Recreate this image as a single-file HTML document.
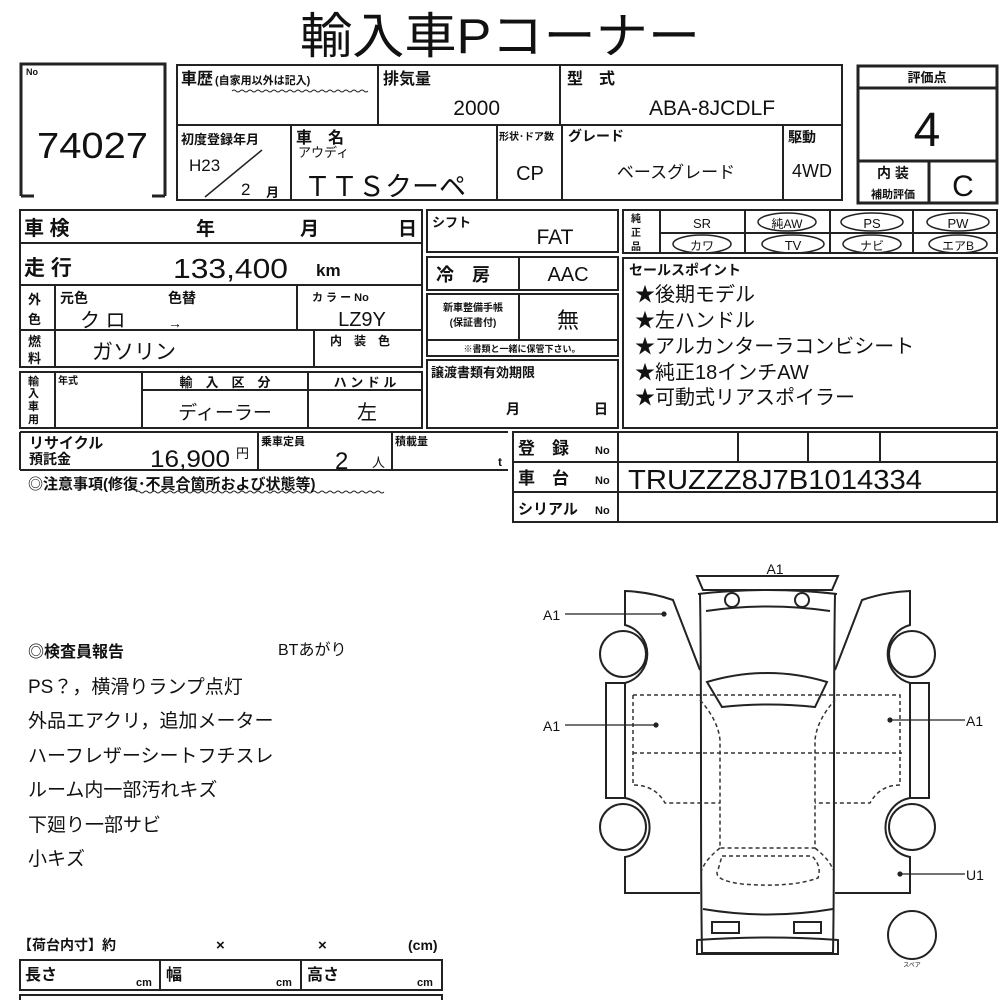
<!DOCTYPE html>
<html><head><meta charset="utf-8"><style>
html,body{margin:0;padding:0;background:#fff;}
svg{display:block;}
text{font-family:"Liberation Sans","Noto Sans CJK JP",sans-serif;fill:#111;}
.b{font-weight:bold;}
</style></head><body>
<svg width="1000" height="1000" viewBox="0 0 1000 1000" xmlns="http://www.w3.org/2000/svg">
<g stroke="#222" fill="none" stroke-width="2">
<path d="M21 196 V64 H165 V196" stroke-width="3"/>
<path d="M21 196 H34 M165 196 H152" stroke-width="3"/>
<rect x="177" y="65" width="665" height="135"/>
<line x1="177" y1="125" x2="842" y2="125"/>
<line x1="378" y1="65" x2="378" y2="125"/>
<line x1="560" y1="65" x2="560" y2="125"/>
<line x1="291" y1="125" x2="291" y2="200"/>
<line x1="497" y1="125" x2="497" y2="200"/>
<line x1="562" y1="125" x2="562" y2="200"/>
<line x1="783" y1="125" x2="783" y2="200"/>
<line x1="205" y1="197" x2="262" y2="150" stroke-width="1.5"/>
<rect x="858" y="66" width="139" height="137" stroke-width="3"/>
<line x1="858" y1="88" x2="997" y2="88" stroke-width="3"/>
<line x1="858" y1="161" x2="997" y2="161" stroke-width="3"/>
<line x1="929" y1="161" x2="929" y2="203" stroke-width="3"/>
<rect x="20" y="210" width="402" height="157"/>
<line x1="20" y1="243" x2="422" y2="243"/>
<line x1="20" y1="285" x2="422" y2="285"/>
<line x1="20" y1="330" x2="422" y2="330"/>
<line x1="55" y1="285" x2="55" y2="367"/>
<line x1="297" y1="285" x2="297" y2="330"/>
<line x1="314" y1="330" x2="314" y2="367"/>
<rect x="20" y="372" width="402" height="56"/>
<line x1="55" y1="372" x2="55" y2="428"/>
<line x1="142" y1="372" x2="142" y2="428"/>
<line x1="308" y1="372" x2="308" y2="428"/>
<line x1="142" y1="390" x2="422" y2="390"/>
<path d="M20 432 H508 M20 470 H508 M20 432 V470 M258 432 V470 M392 432 V470"/>
<rect x="427" y="210" width="191" height="42"/>
<rect x="427" y="257" width="191" height="33"/>
<line x1="519" y1="257" x2="519" y2="290"/>
<rect x="427" y="294" width="191" height="46"/>
<line x1="519" y1="294" x2="519" y2="340"/>
<rect x="427" y="340" width="191" height="16"/>
<rect x="427" y="360" width="191" height="68"/>
<rect x="623" y="210" width="374" height="43"/>
<line x1="660" y1="210" x2="660" y2="253"/>
<line x1="660" y1="233" x2="997" y2="233"/>
<line x1="745" y1="210" x2="745" y2="253"/>
<line x1="830" y1="210" x2="830" y2="253"/>
<line x1="913" y1="210" x2="913" y2="253"/>
<ellipse cx="787" cy="222" rx="29" ry="9" stroke-width="1.5"/>
<ellipse cx="872" cy="222" rx="31" ry="9" stroke-width="1.5"/>
<ellipse cx="958" cy="222" rx="31" ry="9" stroke-width="1.5"/>
<ellipse cx="702" cy="244" rx="29" ry="9" stroke-width="1.5"/>
<ellipse cx="793" cy="244" rx="31" ry="9" stroke-width="1.5"/>
<ellipse cx="872" cy="244" rx="29" ry="9" stroke-width="1.5"/>
<ellipse cx="958" cy="244" rx="29" ry="9" stroke-width="1.5"/>
<rect x="623" y="258" width="374" height="170"/>
<rect x="513" y="432" width="484" height="90"/>
<line x1="513" y1="462" x2="997" y2="462"/>
<line x1="513" y1="492" x2="997" y2="492"/>
<line x1="618" y1="432" x2="618" y2="522"/>
<line x1="738" y1="432" x2="738" y2="462"/>
<line x1="808" y1="432" x2="808" y2="462"/>
<line x1="880" y1="432" x2="880" y2="462"/>
<rect x="20" y="960" width="422" height="30"/>
<line x1="160" y1="960" x2="160" y2="990"/>
<line x1="301" y1="960" x2="301" y2="990"/>
<path d="M20 1002 V995 H442 V1002"/>
</g>
<path d="M232 91 q2 -2 4 0 t4 0 t4 0 t4 0 t4 0 t4 0 t4 0 t4 0 t4 0 t4 0 t4 0 t4 0 t4 0 t4 0 t4 0 t4 0 t4 0 t4 0 t4 0 t4 0 t4 0 t4 0 t4 0 t4 0 t4 0 t4 0 t4 0 t4 0 t4 0 t4 0 t4 0 t4 0 t4 0 t4 0" stroke="#222" fill="none" stroke-width="1"/>
<path d="M136 492 q2 -2 4 0 t4 0 t4 0 t4 0 t4 0 t4 0 t4 0 t4 0 t4 0 t4 0 t4 0 t4 0 t4 0 t4 0 t4 0 t4 0 t4 0 t4 0 t4 0 t4 0 t4 0 t4 0 t4 0 t4 0 t4 0 t4 0 t4 0 t4 0 t4 0 t4 0 t4 0 t4 0 t4 0 t4 0 t4 0 t4 0 t4 0 t4 0 t4 0 t4 0 t4 0 t4 0 t4 0 t4 0 t4 0 t4 0 t4 0 t4 0 t4 0 t4 0 t4 0 t4 0 t4 0 t4 0 t4 0 t4 0 t4 0 t4 0 t4 0 t4 0 t4 0 t4 0" stroke="#222" fill="none" stroke-width="1"/>

<text x="300" y="53" font-size="49" textLength="400" lengthAdjust="spacingAndGlyphs">輸入車Pコーナー</text>
<text x="26" y="75" font-size="9" class="b">No</text>
<text x="37" y="158" font-size="36" textLength="111" lengthAdjust="spacingAndGlyphs">74027</text>
<text x="181" y="84" font-size="16" class="b">車歴</text>
<text x="215" y="84" font-size="11" class="b">(自家用以外は記入)</text>
<text x="383" y="84" font-size="16" class="b">排気量</text>
<text x="500" y="115" font-size="21" text-anchor="end">2000</text>
<text x="567" y="84" font-size="16" class="b">型　式</text>
<text x="712" y="115" font-size="21" text-anchor="middle">ABA-8JCDLF</text>
<text x="181" y="144" font-size="13" class="b">初度登録年月</text>
<text x="189" y="171" font-size="17">H23</text>
<text x="241" y="195" font-size="17">2</text>
<text x="266" y="197" font-size="13" class="b">月</text>
<text x="296" y="143" font-size="16" class="b">車　名</text>
<text x="298" y="157" font-size="13">アウディ</text>
<text x="304" y="196" font-size="27">ＴＴＳクーペ</text>
<text x="499" y="140" font-size="10" class="b">形状･ドア数</text>
<text x="530" y="180" font-size="20" text-anchor="middle">CP</text>
<text x="568" y="141" font-size="14" class="b">グレード</text>
<text x="676" y="178" font-size="17" text-anchor="middle">ベースグレード</text>
<text x="788" y="142" font-size="14" class="b">駆動</text>
<text x="812" y="177" font-size="18" text-anchor="middle">4WD</text>
<text x="927" y="82" font-size="13" text-anchor="middle" class="b">評価点</text>
<text x="927" y="146" font-size="48" text-anchor="middle">4</text>
<text x="893" y="178" font-size="14" text-anchor="middle" class="b">内 装</text>
<text x="893" y="198" font-size="11" text-anchor="middle" class="b">補助評価</text>
<text x="963" y="196" font-size="30" text-anchor="middle">C</text>

<text x="24" y="235" font-size="20" class="b">車 検</text>
<text x="196" y="235" font-size="19" class="b">年</text>
<text x="300" y="235" font-size="19" class="b">月</text>
<text x="398" y="235" font-size="19" class="b">日</text>
<text x="24" y="275" font-size="21" class="b">走 行</text>
<text x="173" y="278" font-size="28" textLength="115" lengthAdjust="spacingAndGlyphs">133,400</text>
<text x="316" y="276" font-size="17" class="b">km</text>
<text x="28" y="304" font-size="13" class="b">外</text>
<text x="28" y="324" font-size="13" class="b">色</text>
<text x="60" y="303" font-size="14" class="b">元色</text>
<text x="168" y="303" font-size="14" class="b">色替</text>
<text x="80" y="327" font-size="20">ク ロ</text>
<text x="168" y="328" font-size="14">→</text>
<text x="312" y="301" font-size="11" class="b">カ ラ ー No</text>
<text x="362" y="326" font-size="20" text-anchor="middle">LZ9Y</text>
<text x="28" y="346" font-size="13" class="b">燃</text>
<text x="28" y="363" font-size="13" class="b">料</text>
<text x="92" y="359" font-size="21">ガソリン</text>
<text x="330" y="345" font-size="12" class="b">内　装　色</text>
<text x="28" y="385" font-size="11" class="b">輸</text>
<text x="28" y="397" font-size="11" class="b">入</text>
<text x="28" y="410" font-size="11" class="b">車</text>
<text x="28" y="423" font-size="11" class="b">用</text>
<text x="58" y="384" font-size="10" class="b">年式</text>
<text x="225" y="387" font-size="13" text-anchor="middle" class="b">輸　入　区　分</text>
<text x="365" y="387" font-size="13" text-anchor="middle" class="b">ハ ン ド ル</text>
<text x="225" y="419" font-size="19" text-anchor="middle">ディーラー</text>
<text x="367" y="419" font-size="20" text-anchor="middle">左</text>
<text x="29" y="448" font-size="15" class="b">リサイクル</text>
<text x="29" y="464" font-size="14" class="b">預託金</text>
<text x="150" y="467" font-size="24" textLength="80" lengthAdjust="spacingAndGlyphs">16,900</text>
<text x="236" y="458" font-size="13">円</text>
<text x="261" y="445" font-size="11" class="b">乗車定員</text>
<text x="335" y="469" font-size="24">2</text>
<text x="372" y="467" font-size="13">人</text>
<text x="395" y="445" font-size="11" class="b">積載量</text>
<text x="498" y="466" font-size="12" class="b">t</text>
<text x="28" y="489" font-size="15" class="b">◎注意事項(修復･不具合箇所および状態等)</text>

<text x="432" y="227" font-size="13" class="b">シフト</text>
<text x="555" y="244" font-size="21" text-anchor="middle">FAT</text>
<text x="436" y="281" font-size="18" class="b">冷　房</text>
<text x="568" y="281" font-size="20" text-anchor="middle">AAC</text>
<text x="473" y="311" font-size="10" text-anchor="middle" class="b">新車整備手帳</text>
<text x="473" y="326" font-size="10" text-anchor="middle" class="b">(保証書付)</text>
<text x="568" y="328" font-size="22" text-anchor="middle">無</text>
<text x="522" y="352" font-size="9" text-anchor="middle" class="b">※書類と一緒に保管下さい。</text>
<text x="431" y="377" font-size="13" class="b">譲渡書類有効期限</text>
<text x="506" y="414" font-size="14" class="b">月</text>
<text x="594" y="414" font-size="14" class="b">日</text>

<text x="631" y="222" font-size="10" class="b">純</text>
<text x="631" y="236" font-size="10" class="b">正</text>
<text x="631" y="250" font-size="10" class="b">品</text>
<text x="702" y="228" font-size="13" text-anchor="middle">SR</text>
<text x="787" y="228" font-size="12" text-anchor="middle">純AW</text>
<text x="872" y="228" font-size="13" text-anchor="middle">PS</text>
<text x="958" y="228" font-size="13" text-anchor="middle">PW</text>
<text x="702" y="250" font-size="12" text-anchor="middle">カワ</text>
<text x="793" y="250" font-size="13" text-anchor="middle">TV</text>
<text x="872" y="250" font-size="12" text-anchor="middle">ナビ</text>
<text x="958" y="250" font-size="12" text-anchor="middle">エアB</text>
<text x="629" y="275" font-size="14" class="b">セールスポイント</text>
<text x="635" y="301" font-size="20">★後期モデル</text>
<text x="635" y="327" font-size="20">★左ハンドル</text>
<text x="635" y="353" font-size="20">★アルカンターラコンビシート</text>
<text x="635" y="379" font-size="20">★純正18インチAW</text>
<text x="635" y="404" font-size="20">★可動式リアスポイラー</text>

<text x="518" y="454" font-size="17" class="b">登　録</text>
<text x="595" y="454" font-size="11" class="b">No</text>
<text x="518" y="484" font-size="17" class="b">車　台</text>
<text x="595" y="484" font-size="11" class="b">No</text>
<text x="518" y="514" font-size="15" class="b">シリアル</text>
<text x="595" y="514" font-size="11" class="b">No</text>
<text x="628" y="489" font-size="28" textLength="294" lengthAdjust="spacingAndGlyphs">TRUZZZ8J7B1014334</text>

<text x="28" y="657" font-size="16" class="b">◎検査員報告</text>
<text x="278" y="655" font-size="16">BTあがり</text>
<text x="28" y="693" font-size="19">PS？，横滑りランプ点灯</text>
<text x="28" y="727" font-size="19">外品エアクリ，追加メーター</text>
<text x="28" y="762" font-size="19">ハーフレザーシートフチスレ</text>
<text x="28" y="796" font-size="19">ルーム内一部汚れキズ</text>
<text x="28" y="831" font-size="19">下廻り一部サビ</text>
<text x="28" y="865" font-size="19">小キズ</text>
<text x="18" y="950" font-size="14" class="b">【荷台内寸】約</text>
<text x="216" y="950" font-size="15" class="b">×</text>
<text x="318" y="950" font-size="15" class="b">×</text>
<text x="408" y="950" font-size="14" class="b">(cm)</text>
<text x="25" y="980" font-size="16" class="b">長さ</text>
<text x="136" y="986" font-size="11" class="b">cm</text>
<text x="166" y="980" font-size="16" class="b">幅</text>
<text x="276" y="986" font-size="11" class="b">cm</text>
<text x="307" y="980" font-size="16" class="b">高さ</text>
<text x="417" y="986" font-size="11" class="b">cm</text>

<g stroke="#222" fill="none" stroke-width="2">
<path d="M697 576 H838 L832 590 H703 Z"/>
<path d="M698 594 Q768 586 837 594"/>
<path d="M700 594 C702 700 700 850 702 953 H833 C835 850 833 700 835 594"/>
<path d="M706 611 Q768 602 830 611"/>
<circle cx="732" cy="600" r="7"/><circle cx="802" cy="600" r="7"/>
<path d="M707 682 Q768 664 827 682 L815 707 Q768 702 722 707 Z"/>
<path d="M703 909 Q768 920 833 909"/>
<rect x="712" y="922" width="27" height="11"/><rect x="794" y="922" width="27" height="11"/>
<path d="M697 940 Q768 935 838 940 L838 954 H697 Z"/>
<path d="M700 670 L673 600 Q650 592 625 591 V625 A30 30 0 0 1 625 683 H606 V798 H625 A30 30 0 0 1 625 857 V893 H700"/>
<circle cx="623" cy="654" r="23"/><circle cx="623" cy="827" r="23"/>
<path d="M625 683 V798"/>
<path d="M835 670 L862 600 Q885 592 910 591 V625 A30 30 0 0 0 910 683 H929 V798 H910 A30 30 0 0 0 910 857 V893 H835"/>
<circle cx="912" cy="654" r="23"/><circle cx="912" cy="827" r="23"/>
<path d="M910 683 V798"/>
<circle cx="912" cy="935" r="24"/>
</g>
<g stroke="#333" fill="none" stroke-width="1.5" stroke-dasharray="4 3">
<path d="M633 695 H900 V785 Q880 785 870 803 H815 M633 695 V785 Q655 785 665 803 H720"/>
<path d="M633 753 H902"/>
<path d="M700 700 Q718 720 720 740 V848 H815 V740 Q817 720 835 700"/>
<path d="M720 848 Q705 860 702 870 M815 848 Q830 860 833 870"/>
<path d="M722 856 H812 Q822 866 818 878 Q790 888 742 884 Q712 880 718 870 Z"/>
</g>
<g stroke="#222" stroke-width="1.2">
<line x1="565" y1="614" x2="664" y2="614"/><circle cx="664" cy="614" r="2" fill="#222"/>
<line x1="565" y1="725" x2="656" y2="725"/><circle cx="656" cy="725" r="2" fill="#222"/>
<line x1="890" y1="720" x2="965" y2="720"/><circle cx="890" cy="720" r="2" fill="#222"/>
<line x1="900" y1="874" x2="965" y2="874"/><circle cx="900" cy="874" r="2" fill="#222"/>
</g>
<text x="775" y="574" font-size="14" text-anchor="middle">A1</text>
<text x="543" y="620" font-size="14">A1</text>
<text x="543" y="731" font-size="14">A1</text>
<text x="966" y="726" font-size="14">A1</text>
<text x="966" y="880" font-size="14">U1</text>
<text x="912" y="967" font-size="6" text-anchor="middle">スペア</text>
</svg>
</body></html>
